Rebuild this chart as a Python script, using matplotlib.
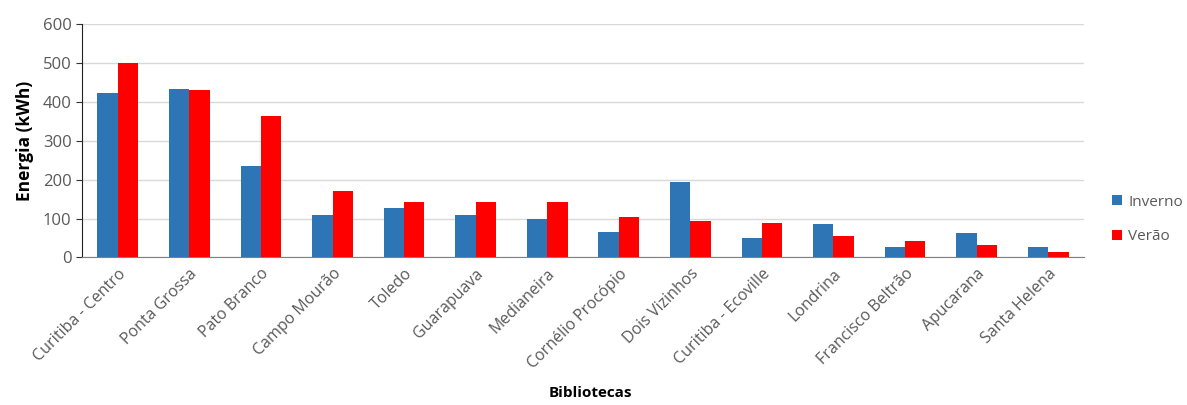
import numpy as np
import matplotlib.pyplot as plt

# dados
bibliotecas = ['Curitiba - Centro', 'Ponta Grossa', 'Pato Branco', 'Campo Mourão',
               'Toledo', 'Guarapuava', 'Medianeira', 'Cornélio Procópio',
               'Dois Vizinhos', 'Curitiba - Ecoville', 'Londrina',
               'Francisco Beltrão', 'Apucarana', 'Santa Helena']
inverno = [422, 432, 234, 110, 128, 110, 98, 65, 193, 50, 86, 28, 63, 28]
verao = [500, 430, 364, 171, 143, 143, 143, 105, 93, 88, 55, 43, 33, 15]
yticks = [0, 100, 200, 300, 400, 500, 600]

plt.rcParams['font.family'] = ['Open Sans', 'DejaVu Sans']

fig = plt.figure(figsize=(11.87, 4.05), dpi=100)
ax = fig.add_axes([0.0691, 0.3642, 0.8441, 0.5765])

x = np.arange(len(bibliotecas))
w = 0.284
ax.bar(x - w / 2, inverno, w, color='#2E75B6', label='Inverno', zorder=3)
ax.bar(x + w / 2, verao, w, color='#FF0000', label='Verão', zorder=3)

ax.set_xlim(-0.5, len(bibliotecas) - 0.5)
ax.set_ylim(0, 600)
ax.set_yticks(yticks)
ax.grid(axis='y', color='#D9D9D9', linewidth=1, zorder=0)
ax.set_xticks(x)
ax.set_xticklabels(bibliotecas, rotation=45, ha='right', rotation_mode='anchor',
                   fontsize=11.5, color='#595959')
ax.tick_params(axis='x', length=0, pad=6)
ax.tick_params(axis='y', labelsize=12, labelcolor='#595959', length=4, color='#333333')

for s in ['top', 'right']:
    ax.spines[s].set_visible(False)
ax.spines['left'].set_color('#222222')
ax.spines['bottom'].set_color('#808080')

ax.set_ylabel('Energia (kWh)', fontsize=12.5, fontweight='bold', labelpad=6)
fig.text(0.497, 0.02, 'Bibliotecas', ha='center', fontsize=11, fontweight='bold')

leg = ax.legend(loc='center left', bbox_to_anchor=(1112 / 1187, 0.458),
                bbox_transform=fig.transFigure, borderaxespad=0, borderpad=0,
                frameon=False, fontsize=11, handlelength=0.65, handleheight=0.65,
                handletextpad=0.4, labelspacing=1.3)
for t in leg.get_texts():
    t.set_color('#595959')

fig.savefig('out.png', dpi=100)
